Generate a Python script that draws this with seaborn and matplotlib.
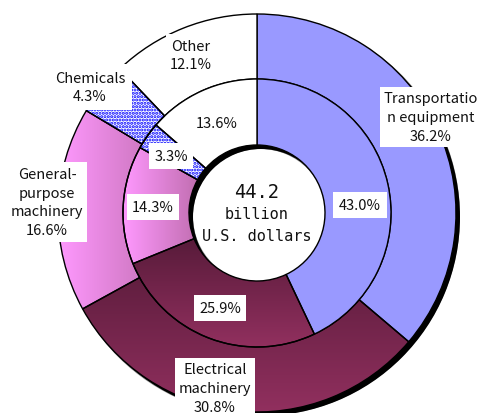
import numpy as np
import matplotlib
matplotlib.use("Agg")
import matplotlib.pyplot as plt
import seaborn as sns
from matplotlib.patches import Wedge
from matplotlib.colors import LinearSegmentedColormap

# data
categories = ["Transportation equipment", "Electrical machinery",
              "General-purpose machinery", "Chemicals", "Other"]
outer_labels = ["Transportatio\nn equipment", "Electrical\nmachinery",
                "General-\npurpose\nmachinery", "Chemicals", "Other"]
outer_share = [36.2, 30.8, 16.6, 4.3, 12.1]   # outer ring
inner_share = [43.0, 25.9, 14.3, 3.3, 13.6]   # inner ring
total_lines = ["44.2", "billion", "U.S. dollars"]

sns.set_theme(style="white")
plt.rcParams['font.family'] = ['Noto Sans CJK JP', 'DejaVu Sans']
plt.rcParams['hatch.linewidth'] = 1.5

W, H = 480, 414
fig = plt.figure(figsize=(4.8, 4.14), dpi=100)
ax = fig.add_axes([0, 0, 1, 1])

cx, cy = 257, 200
r_out, r_mid, r_hole = 199, 134, 68

base_colors = ["#9999ff", "none", "none", "white", "white"]
grad = {1: ("v", ["#92305f", "#4a1631"]),          # bottom -> top
        2: ("h", ["#ff99ff", "#c873b9", "#7a3f4d"])}  # left -> right

# drop shadow of the whole doughnut
ax.add_patch(Wedge((cx + 4, cy - 4), r_out, 0, 360, width=r_out - r_hole,
                   facecolor="black", edgecolor="none", zorder=0.3))
ax.add_patch(Wedge((cx + 3, cy - 3), r_out + 1, 0, 360, width=r_out - r_hole + 2,
                   facecolor="#555555", edgecolor="none", zorder=0.2, alpha=0.6))

wp = dict(edgecolor="black", linewidth=1.0)
w_out, _ = ax.pie(outer_share, radius=r_out, center=(cx, cy), startangle=90,
                  counterclock=False, colors=base_colors, frame=True,
                  wedgeprops=dict(width=r_out - r_mid, **wp))
w_in, _ = ax.pie(inner_share, radius=r_mid, center=(cx, cy), startangle=90,
                 counterclock=False, colors=base_colors, frame=True,
                 wedgeprops=dict(width=r_mid - r_hole, **wp))


def fill_gradient(w, kind, cols):
    v = w.get_path().vertices
    x0, y0 = v.min(axis=0)
    x1, y1 = v.max(axis=0)
    cmap = LinearSegmentedColormap.from_list("g", cols)
    ramp = np.linspace(0, 1, 256)
    img = ramp[:, None] if kind == "v" else ramp[None, :]
    im = ax.imshow(img, cmap=cmap, extent=(x0, x1, y0, y1), origin="lower",
                   aspect="auto", zorder=0.9, interpolation="bilinear")
    im.set_clip_path(w)


for ring in (w_out, w_in):
    for i, w in enumerate(ring):
        if i in grad:
            fill_gradient(w, *grad[i])
        if categories[i] == "Chemicals":
            ax.add_patch(Wedge(w.center, w.r, w.theta1, w.theta2, width=w.width,
                               facecolor="none", edgecolor="blue", hatch=".....",
                               linewidth=0, zorder=1.05))
            ax.add_patch(Wedge(w.center, w.r, w.theta1, w.theta2, width=w.width,
                               facecolor="none", edgecolor="black",
                               linewidth=1.0, zorder=1.1))

# labels (positions in image pixels, y from top)
outer_pos = [(431, 118), (215, 389), (47, 203), (90, 88), (191, 56)]
inner_pos = [(360, 206), (220, 309), (153, 208), (171, 157), (217, 124)]
outer_pad = [3, 3, 3, 5, 3]

for lab, s, (px, py), pd_ in zip(outer_labels, outer_share, outer_pos, outer_pad):
    ax.text(px, H - py, f"{lab}\n{s:.1f}%", ha="center", va="center",
            fontsize=10.5, linespacing=1.45, color="#111111", zorder=5,
            bbox=dict(facecolor="white", edgecolor="none", pad=pd_))

for s, (px, py) in zip(inner_share, inner_pos):
    ax.text(px, H - py, f"{s:.1f}%", ha="center", va="center",
            fontsize=10.5, color="#111111", zorder=5,
            bbox=dict(facecolor="white", edgecolor="none", pad=4))

for k, line in enumerate(total_lines):
    ax.text(cx, cy + 22 - 22.5 * k, line, ha="center", va="center",
            fontsize=13.5 if k == 0 else 11, family="DejaVu Sans Mono",
            color="#111111", zorder=5)

ax.set_xlim(0, W)
ax.set_ylim(0, H)
ax.set_aspect("equal")
ax.axis("off")
fig.savefig("out.png", dpi=100)
